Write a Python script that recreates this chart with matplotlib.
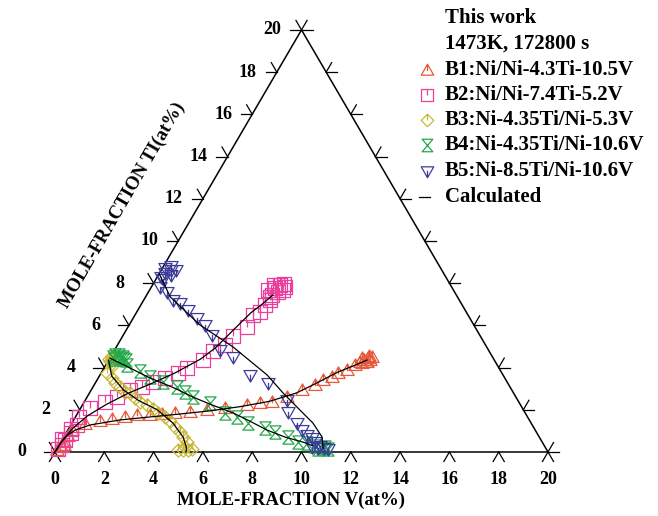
import numpy as np
import matplotlib
matplotlib.use("Agg")
import matplotlib.pyplot as plt
from matplotlib.path import Path

# measured points, (V at%, Ti at%)
b1_v = [0.05, 0.1, 0.12, 0.2, 0.15, 0.17, 0.55, 1.09, 1.53, 2.01, 2.45, 2.98, 3.44, 3.94, 4.53, 5.17,
        5.85, 6.68, 7.16, 7.62, 8.11, 8.55, 8.96, 9.17, 9.46, 9.61, 9.90, 10.11, 10.24, 10.36, 10.47,
        10.60, 10.61, 10.48, 10.23, 10.35, 10.55, 10.45]
b1_ti = [0.1, 0.3, 0.5, 0.35, 0.75, 1.04, 1.33, 1.47, 1.56, 1.66, 1.75, 1.75, 1.80, 1.85, 1.90, 1.99,
         2.08, 2.23, 2.32, 2.37, 2.61, 2.94, 3.18, 3.41, 3.55, 3.74, 3.89, 4.12, 4.27, 4.36, 4.45,
         4.36, 4.50, 4.27, 4.45, 4.2, 4.25, 4.55]

b2_v = [0.05, 0.1, 0.0, 0.15, 0.2, 0.1, 0.25, 0.15, 0.38, 0.84, 1.21, 1.57, 1.99, 2.32, 2.71, 3.12,
        3.37, 3.82, 4.02, 4.36, 4.47, 4.83, 4.79, 5.00, 5.03, 5.05, 4.80, 5.04, 5.17, 5.08, 5.26,
        5.41, 5.42, 5.12, 4.95, 5.3]
b2_ti = [0.15, 0.35, 0.6, 0.55, 0.9, 1.1, 1.3, 1.66, 2.09, 2.37, 2.61, 2.94, 3.08, 3.32, 3.51, 3.74,
         3.98, 4.36, 4.79, 5.07, 5.50, 5.92, 6.49, 6.64, 6.97, 7.35, 7.68, 7.77, 7.91, 7.44, 7.58,
         7.68, 7.82, 7.20, 7.9, 7.95]

b3_v = [0.0, 0.1, 0.2, 0.05, 0.15, 0.3, 0.24, 0.56, 0.80, 1.10, 1.42, 1.64, 1.97, 2.27, 2.62, 2.96,
        3.25, 3.63, 3.93, 4.28, 4.60, 4.84, 5.12, 4.94, 5.15, 5.35, 5.5, 5.17]
b3_ti = [4.4, 4.3, 4.2, 4.5, 4.35, 4.1, 3.74, 3.51, 3.27, 3.08, 2.84, 2.80, 2.56, 2.37, 2.23, 2.04,
         1.85, 1.66, 1.47, 1.18, 0.95, 0.71, 0.47, 0.1, 0.1, 0.1, 0.15, 0.24]

b4_v = [0.1, 0.2, 0.3, 0.4, 0.5, 0.6, 0.15, 0.7, 0.86, 1.53, 2.08, 2.72, 3.41, 3.85, 4.30, 5.13,
        5.97, 6.55, 7.14, 7.95, 8.45, 9.10, 9.62, 10.01, 10.41, 10.74, 11.0, 10.6, 10.83]
b4_ti = [4.5, 4.4, 4.6, 4.45, 4.5, 4.4, 4.6, 4.35, 4.12, 3.84, 3.55, 3.32, 3.08, 2.85, 2.61, 2.32,
         1.85, 1.66, 1.37, 1.14, 0.95, 0.71, 0.47, 0.43, 0.28, 0.19, 0.14, 0.14, 0.24]

b5_v = [0.1, 0.2, 0.3, 0.4, 0.5, 0.15, 0.6, 0.3, 0.35, 0.75, 1.19, 1.54, 2.03, 2.58, 3.08, 3.59,
        4.28, 4.97, 6.09, 7.01, 8.18, 8.50, 9.13, 9.50, 9.82, 10.10, 10.31, 10.31, 10.57, 10.82,
        10.61, 11.01]
b5_ti = [8.7, 8.5, 8.8, 8.6, 8.4, 8.3, 8.6, 8.2, 7.82, 7.58, 7.20, 7.06, 6.73, 6.35, 6.02, 5.55,
         4.83, 4.50, 3.65, 3.27, 2.46, 1.90, 1.37, 1.04, 0.81, 0.66, 0.47, 0.24, 0.19, 0.19,
         0.28, 0.14]

# calculated diffusion paths
c1_v = [0, 0.02, 0.1, 0.3, 0.78, 1.88, 3.02, 4.17, 5.32, 6.44, 7.5, 8.4, 8.9, 9.6, 10.1, 10.48]
c1_ti = [0, 0.45, 0.78, 1.04, 1.28, 1.52, 1.66, 1.80, 1.95, 2.15, 2.4, 2.8, 3.2, 3.8, 4.1, 4.36]
c2_v = [0, 0.03, 0.15, 0.45, 0.95, 1.6, 2.3, 3.0, 3.7, 4.05, 4.35, 4.65, 4.9, 5.12]
c2_ti = [0, 0.55, 1.1, 1.7, 2.25, 2.8, 3.25, 3.75, 4.4, 4.95, 5.8, 6.6, 7.0, 7.44]
c3_v = [0, 0.5, 1.3, 2.15, 3.15, 4.1, 4.84, 5.2, 5.3]
c3_ti = [4.35, 3.6, 2.95, 2.45, 2.0, 1.37, 0.71, 0.25, 0.05]
c4_v = [0, 0.9, 2.0, 3.4, 4.3, 5.2, 6.3, 7.2, 8.08, 9.0, 9.82, 10.3]
c4_ti = [4.45, 4.05, 3.55, 3.0, 2.6, 2.25, 1.85, 1.45, 1.04, 0.7, 0.47, 0.3]
c5_v = [0, 1.0, 2.87, 4.73, 6.78, 7.85, 8.94, 9.78, 10.48, 10.78]
c5_ti = [8.45, 7.35, 6.02, 4.98, 3.65, 2.80, 1.99, 1.37, 0.71, 0.19]

labels = ["B1:Ni/Ni-4.3Ti-10.5V", "B2:Ni/Ni-7.4Ti-5.2V", "B3:Ni-4.35Ti/Ni-5.3V",
          "B4:Ni-4.35Ti/Ni-10.6V", "B5:Ni-8.5Ti/Ni-10.6V"]
colors = ["#e65a3c", "#e8409c", "#c8b838", "#22a84a", "#3c3c9c"]
ticks = list(range(0, 21, 2))

M, L, C = Path.MOVETO, Path.LINETO, Path.CLOSEPOLY
tri_up = Path([(-1, -0.75), (1, -0.75), (0, 1), (-1, -0.75), (0, 0.8), (0, -0.1)], [M, L, L, C, M, L])
square = Path([(-1, -1), (1, -1), (1, 1), (-1, 1), (-1, -1), (0, 1), (0, 0)], [M, L, L, L, C, M, L])
diamond = Path([(0, -1), (1, 0), (0, 1), (-1, 0), (0, -1), (0, 1), (0, 0)], [M, L, L, L, C, M, L])
hourglass = Path([(-0.85, 1), (0.85, 1), (-0.85, -1), (0.85, -1), (-0.85, 1)], [M, L, L, L, C])
tri_down = Path([(-1, 0.75), (1, 0.75), (0, -1), (-1, 0.75), (0, -0.8), (0, 0.1)], [M, L, L, C, M, L])
markers = [tri_up, square, diamond, hourglass, tri_down]


def tern(v, ti):
    v = np.asarray(v, float)
    ti = np.asarray(ti, float)
    return v + ti / 2, ti * np.sqrt(3) / 2


W, H = 658, 516
fig = plt.figure(figsize=(W / 100, H / 100), dpi=100)
ax = fig.add_axes([0, 0, 1, 1])
sx, sy = 24.65, 24.37
ax.set_xlim(-55 / sx, (W - 55) / sx)
ax.set_ylim(-(H - 452) / sy, 452 / sy)
ax.axis("off")

serif = ["Liberation Serif", "DejaVu Serif"]
fs = 13      # ticks / axis titles
fs_leg = 15

# triangle frame
fx, fy = tern([0, 20, 0, 0], [0, 0, 20, 0])
ax.plot(fx, fy, color="black", lw=1.1, zorder=3)

# ternary ticks
tl = 0.45
def seg(p, ang):
    a = np.radians(ang)
    ax.plot([p[0], p[0] + tl * np.cos(a)], [p[1], p[1] + tl * np.sin(a)], color="black", lw=0.9)

for t in ticks:
    pb = tern(t, 0)
    seg(pb, 240)
    seg(pb, 300)
    ax.text(pb[0], (452 - 480) / sy, str(t), ha="center", va="center", fontsize=fs, fontweight="bold",
            family=serif)
    pl = tern(0, t)
    seg(pl, 180)
    seg(pl, 120)
    ax.text(pl[0] - 38 / sx, pl[1], str(t), ha="left", va="center", fontsize=fs, fontweight="bold",
            family=serif)
    pr = tern(20 - t, t)
    seg(pr, 0)
    seg(pr, 60)

series = [(b1_v, b1_ti), (b2_v, b2_ti), (b3_v, b3_ti), (b4_v, b4_ti), (b5_v, b5_ti)]
calc = [(c1_v, c1_ti), (c2_v, c2_ti), (c3_v, c3_ti), (c4_v, c4_ti), (c5_v, c5_ti)]

for (v, ti), col, mk in zip(series, colors, markers):
    x, y = tern(v, ti)
    ax.plot(x, y, ls="none", marker=mk, ms=9.5, mfc="none", mec=col, mew=0.9, zorder=4)

for v, ti in calc:
    x, y = tern(v, ti)
    ax.plot(x, y, color="black", lw=0.9, zorder=5)

# axis titles
ax.text((291 - 55) / sx, (452 - 500) / sy, "MOLE-FRACTION V(at%)", ha="center", va="center",
        fontsize=13.5, fontweight="bold", family=serif)
ax.text((122 - 55) / sx, (452 - 205) / sy, "MOLE-FRACTION TI(at%)", ha="center", va="center",
        rotation=60, fontsize=13.5, fontweight="bold", family=serif)

# legend
def fpos(px, py):
    return px / W, 1 - py / H

fig.text(*fpos(445, 18), "This work", ha="left", va="center", fontsize=fs_leg, fontweight="bold",
         family=serif)
fig.text(*fpos(445, 44), "1473K, 172800 s", ha="left", va="center", fontsize=fs_leg, fontweight="bold",
         family=serif)
rows = [70, 95, 120, 145, 171]
for lab, col, mk, py in zip(labels, colors, markers, rows):
    mx, my = fpos(427, py)
    fig.lines.append(plt.Line2D([mx], [my], transform=fig.transFigure, ls="none", marker=mk, ms=9,
                                mfc="none", mec=col, mew=0.9))
    fig.text(*fpos(445, py), lab, ha="left", va="center", fontsize=fs_leg, fontweight="bold",
             family=serif)
x0, y0 = fpos(419, 197)
x1, _ = fpos(430, 197)
fig.lines.append(plt.Line2D([x0, x1], [y0, y0], transform=fig.transFigure, color="black", lw=0.9))
fig.text(*fpos(445, 197), "Calculated", ha="left", va="center", fontsize=fs_leg, fontweight="bold",
         family=serif)

fig.savefig("out.png", dpi=100)
